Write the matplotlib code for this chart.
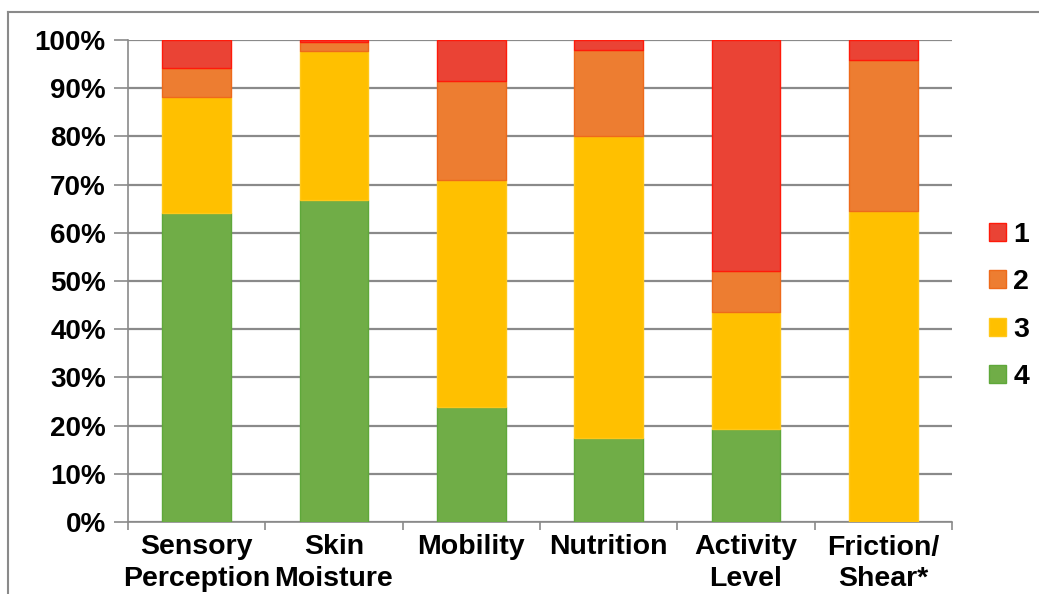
import matplotlib
matplotlib.use("Agg")
import matplotlib.pyplot as plt
from matplotlib.lines import Line2D
from matplotlib.patches import Patch
import numpy as np

categories = ["Sensory\nPerception", "Skin\nMoisture", "Mobility", "Nutrition", "Activity\nLevel", "Friction/\nShear*"]
series_names = ["1", "2", "3", "4"]
s4 = [64.1, 66.8, 23.9, 17.4, 19.3, 0.0]
s3 = [24.1, 30.9, 47.1, 62.7, 24.3, 64.5]
s2 = [6.0, 1.9, 20.5, 17.8, 8.5, 31.4]
s1 = [5.8, 0.4, 8.5, 2.1, 47.9, 4.1]
y_ticks = [0, 10, 20, 30, 40, 50, 60, 70, 80, 90, 100]
y_tick_labels = [f"{v}%" for v in y_ticks]

fills = {"1": "#EA4335", "2": "#ED7D31", "3": "#FFC000", "4": "#70AD47"}
edges = {"1": "#FF1A0A", "2": "#EE6A1A", "3": "#FFC81A", "4": "#5FA83A"}

plt.rcParams['font.family'] = ['Liberation Sans', 'DejaVu Sans']
plt.rcParams['font.weight'] = 'bold'

W, H = 1039, 594
fig = plt.figure(figsize=(W / 100, H / 100), dpi=100)
ax = fig.add_axes([128 / W, 1 - 522 / H, (952 - 128) / W, (522 - 40) / H])

x = np.arange(len(categories))
bw = 0.5
bottom = np.zeros(len(categories))
order = [("4", s4), ("3", s3), ("2", s2), ("1", s1)]
for name, vals in order:
    v = np.array(vals)
    ax.bar(x, v, bw, bottom=bottom, color=fills[name], edgecolor=edges[name],
           linewidth=1.0, zorder=3)
    bottom += v

ax.set_xlim(-0.5, len(categories) - 0.5)
ax.set_ylim(0, 100)
ax.set_yticks(y_ticks)
ax.set_yticklabels(y_tick_labels, fontsize=20, fontweight='bold')
ax.yaxis.grid(True, color='#8A8A8A', linewidth=1.6, zorder=0)
ax.set_axisbelow(True)
ax.tick_params(axis='y', length=10, width=1.2, color='#8A8A8A', pad=6)

ax.set_xticks(x)
ax.set_xticklabels(categories, fontsize=20.5, fontweight='bold', linespacing=1.25)
ax.tick_params(axis='x', length=0, pad=9)
ax.set_xticks(np.arange(-0.5, len(categories)), minor=True)
ax.tick_params(axis='x', which='minor', length=6, width=1.2, color='#8A8A8A')

for s in ['top', 'right']:
    ax.spines[s].set_visible(False)
for s in ['left', 'bottom']:
    ax.spines[s].set_color('#8A8A8A')
    ax.spines[s].set_linewidth(1.2)

handles = [Patch(facecolor=fills[n], edgecolor=edges[n], linewidth=1.0) for n in series_names]
fig.legend(handles, series_names, loc='center left', bbox_to_anchor=(989 / W, 1 - 306 / H),
           frameon=False, handlelength=0.6, handleheight=0.6, borderpad=0, borderaxespad=0,
           handletextpad=0.25, labelspacing=0.75, prop={'weight': 'bold', 'size': 20.5})

# outer frame
fig.add_artist(Line2D([8 / W, 1.0], [1 - 12 / H, 1 - 12 / H], color='#8A8A8A', linewidth=1.5))
fig.add_artist(Line2D([8 / W, 8 / W], [0, 1 - 12 / H], color='#8A8A8A', linewidth=1.5))

fig.savefig("out.png", dpi=100)
